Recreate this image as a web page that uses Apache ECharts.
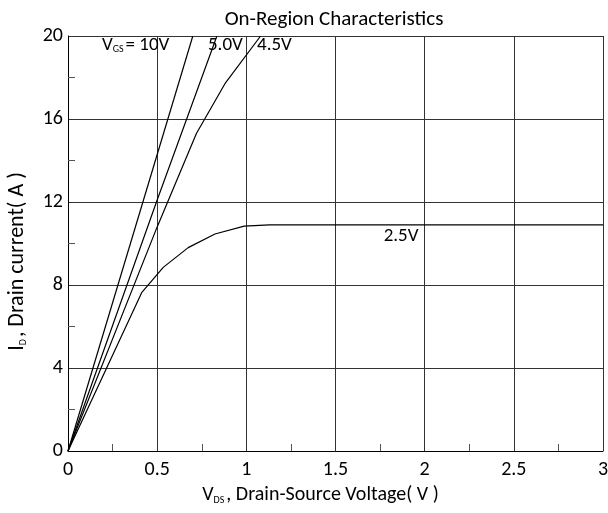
<!DOCTYPE html>
<html><head><meta charset="utf-8">
<script src="https://cdn.jsdelivr.net/npm/echarts@6/dist/echarts.min.js"></script>
<style>html,body{margin:0;padding:0;background:#fff}#c{width:608px;height:513px}</style>
</head><body><div id="c"></div>
<script>
const FONT = "Carlito, 'Liberation Sans Narrow', 'Open Sans', sans-serif";
const xTicks = [0, 0.5, 1, 1.5, 2, 2.5, 3];
const yTicks = [0, 4, 8, 12, 16, 20];
const v10 = [[0, 0], [0.7, 20]];
const v5 = [[0, 0], [0.5, 12.1], [0.835, 20]];
const v45 = [[0, 0], [0.5, 10.8], [0.72, 15.3], [0.88, 17.7], [1.08, 20]];
const v25 = [[0, 0], [0.413, 7.63], [0.534, 8.85], [0.674, 9.8], [0.824, 10.46], [0.988, 10.84], [1.13, 10.9], [3, 10.9]];
const labels = [
  {text: '{m|V}{s|GS}{m|= 10V}', coord: [0.19, 19.55]},
  {text: '{m|5.0V}', coord: [0.785, 19.55]},
  {text: '{m|4.5V}', coord: [1.06, 19.55]},
  {text: '{m|2.5V}', coord: [1.77, 10.35]}
];
const sub = {fontSize: 10, fontFamily: FONT, color: '#000', verticalAlign: 'bottom', padding: [6, 2, 0, 0]};
const rich = {m: {fontSize: 19, fontFamily: FONT, color: '#000'}, s: sub};
const nameRich = (fs) => ({m: {fontSize: fs, fontFamily: FONT, color: '#000'}, s: sub});
const curves = [v10, v5, v45, v25];
const chart = echarts.init(document.getElementById('c'));
chart.setOption({
  animation: false,
  title: {text: 'On-Region Characteristics', left: 329, top: 4, textAlign: 'center',
    textStyle: {fontFamily: FONT, fontSize: 21, fontWeight: 'normal', color: '#000'}},
  grid: {left: 68, right: 5, top: 36, bottom: 62, containLabel: false, outerBoundsMode: 'none'},
  xAxis: {type: 'value', min: xTicks[0], max: xTicks[xTicks.length-1], interval: 0.5,
    axisLine: {lineStyle: {color: '#000', width: 1}},
    axisTick: {show: true, inside: true, length: 0},
    minorTick: {show: true, splitNumber: 2, length: 7, lineStyle: {color: '#555'}},
    splitLine: {show: true, lineStyle: {color: '#333', width: 1}},
    axisLabel: {fontFamily: FONT, fontSize: 20, color: '#000', margin: 9},
    name: '{m|V}{s|DS}{m|, Drain-Source Voltage( V )}', nameLocation: 'middle', nameGap: 34,
    nameTextStyle: {padding: [0, 30, 0, 0], rich: nameRich(20)}
  },
  yAxis: {type: 'value', min: yTicks[0], max: yTicks[yTicks.length-1], interval: 4,
    axisLine: {show: true, lineStyle: {color: '#000', width: 1}},
    axisTick: {show: true, inside: true, length: 0},
    minorTick: {show: true, splitNumber: 2, length: 7, lineStyle: {color: '#555'}},
    splitLine: {show: true, lineStyle: {color: '#333', width: 1}},
    axisLabel: {fontFamily: FONT, fontSize: 20, color: '#000', margin: 5},
    name: '{m|I}{s|D}{m|, Drain current( A )}', nameLocation: 'middle', nameGap: 40, nameRotate: 90,
    nameTextStyle: {padding: [0, 36, 0, 0], rich: nameRich(22)}
  },
  series: curves.map((d, i) => ({
    type: 'line', data: d, symbol: 'none', smooth: false,
    lineStyle: {color: '#000', width: 1.2}, z: 5,
    markPoint: {symbolSize: 0, data: [{coord: labels[i].coord,
      label: {show: true, position: 'right', distance: 0, formatter: labels[i].text, rich: rich}}]}
  }))
});
</script></body></html>
